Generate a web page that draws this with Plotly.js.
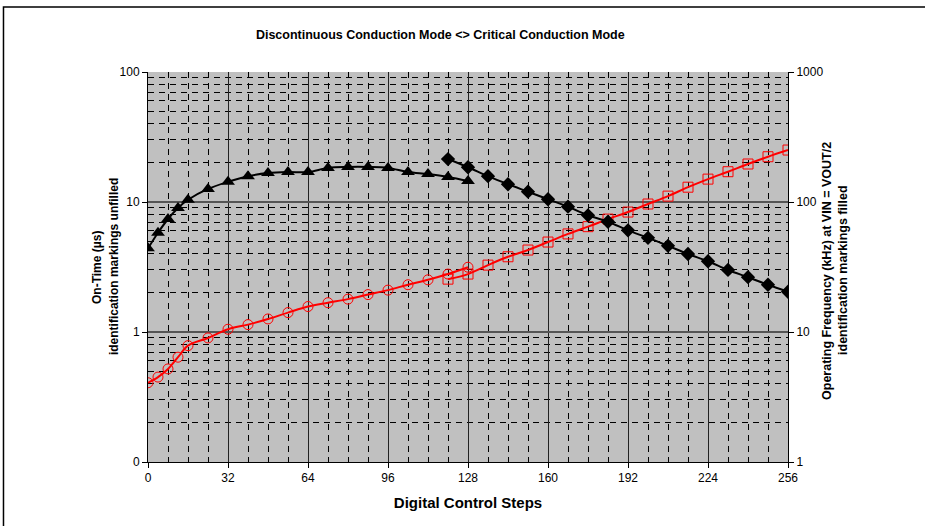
<!DOCTYPE html>
<html>
<head>
<meta charset="utf-8">
<script src="https://cdn.plot.ly/plotly-3.0.1.min.js"></script>
<style>html,body{margin:0;padding:0;background:#fff;}#chart{width:925px;height:526px;}</style>
</head>
<body>
<div id="chart"></div>
<script>
// Digital control steps
const stepsA = [0,4,8,12,16,24,32,40,48,56,64,72,80,88,96,104,112,120,128];
const stepsB = [120,128,136,144,152,160,168,176,184,192,200,208,216,224,232,240,248,256];
// Operating frequency (kHz), filled markers, right axis
const freqTriangle = [44,58,74,90,104,126,143,158,167,170,170,183,186,186,183,170,164,156,145];
const freqDiamond = [214,185,158,137,120,105,92,79,70.5,60.5,53,46,39.8,35,30,26.4,23.1,20.4];
// On-time (us), unfilled markers, left axis
const onTimeCircle = [0.407,0.45,0.52,0.64,0.785,0.90,1.05,1.14,1.26,1.41,1.57,1.68,1.79,1.94,2.10,2.31,2.52,2.79,3.15];
const onTimeSquare = [2.55,2.79,3.27,3.79,4.27,4.92,5.68,6.46,7.39,8.37,9.65,11.1,13.0,15.0,17.1,19.6,22.3,25.1];
// Tick labels
const xTicks = [0,32,64,96,128,160,192,224,256];
const leftTickVals = [0.1,1,10,100];
const leftTickText = ['0','1','10','100'];
const rightTickVals = [1,10,100,1000];
const rightTickText = ['1','10','100','1000'];

const minorY = [];
[0.1,1,10].forEach(d => { for (let k=2;k<=9;k++) minorY.push(d*k); });

const FONT = 'Liberation Sans, Arial, sans-serif';

const traces = [
  {x: stepsA, y: freqTriangle, yaxis:'y2', mode:'lines+markers', type:'scatter',
   line:{color:'#000', width:2, shape:'spline', smoothing:1},
   marker:{symbol:'triangle-up', size:12, color:'#000'}},
  {x: stepsB, y: freqDiamond, yaxis:'y2', mode:'lines+markers', type:'scatter',
   line:{color:'#000', width:2, shape:'spline', smoothing:1},
   marker:{symbol:'diamond', size:11, color:'#000'}},
  {x: stepsA, y: onTimeCircle, yaxis:'y', mode:'lines+markers', type:'scatter',
   line:{color:'#ff0000', width:2, shape:'spline', smoothing:1},
   marker:{symbol:'circle-open', size:10, color:'#ff0000', line:{width:1}}},
  {x: stepsB, y: onTimeSquare, yaxis:'y', mode:'lines+markers', type:'scatter',
   line:{color:'#ff0000', width:2, shape:'spline', smoothing:1},
   marker:{symbol:'square-open', size:10, color:'#ff0000', line:{width:1}}}
];

const layout = {
  width:925, height:526,
  margin:{l:148, r:137, t:72, b:64, pad:0},
  paper_bgcolor:'#ffffff', plot_bgcolor:'#c0c0c0',
  showlegend:false,
  font:{family:FONT, size:12, color:'#000'},
  title:{text:'<b>Discontinuous Conduction Mode &lt;&gt; Critical Conduction Mode</b>',
         font:{family:FONT, size:12.5, color:'#000'}, x:0.476, xanchor:'center', y:0.935, yanchor:'middle'},
  xaxis:{range:[0,256], tickvals:xTicks, ticks:'outside', ticklen:5, tickcolor:'#000',
         showline:true, linecolor:'#000', linewidth:1, zeroline:false,
         showgrid:true, gridcolor:'#222', gridwidth:1,
         minor:{dtick:8, tick0:0, showgrid:true, gridcolor:'#000', gridwidth:1, griddash:'6px,5px', ticks:''},
         tickfont:{family:FONT, size:12, color:'#000'},
         title:{text:'<b>Digital Control Steps</b>', font:{family:FONT, size:15, color:'#000'}, standoff:13}},
  yaxis:{type:'log', range:[-1,2], tickvals:leftTickVals, ticktext:leftTickText, ticks:'outside', ticklen:5, tickcolor:'#000',
         showline:true, linecolor:'#000', linewidth:1, zeroline:false,
         showgrid:true, gridcolor:'#555', gridwidth:1.5,
         minor:{tickvals:minorY, showgrid:true, gridcolor:'#000', gridwidth:1, griddash:'6px,5px', ticks:''},
         tickfont:{family:FONT, size:12, color:'#000'}},
  yaxis2:{type:'log', range:[0,3], overlaying:'y', side:'right', tickvals:rightTickVals, ticktext:rightTickText,
         ticks:'outside', ticklen:5, tickcolor:'#000', showline:true, linecolor:'#000', linewidth:1,
         showgrid:false, zeroline:false, tickfont:{family:FONT, size:12, color:'#000'}},
  annotations:[
    {text:'<b>On-Time (µs)</b>', xref:'paper', yref:'paper', x:-0.0797, y:0.5, textangle:-90,
     showarrow:false, xanchor:'center', yanchor:'middle', font:{family:FONT, size:12, color:'#000'}},
    {text:'<b>identification markings unfilled</b>', xref:'paper', yref:'paper', x:-0.053, y:0.5, textangle:-90,
     showarrow:false, xanchor:'center', yanchor:'middle', font:{family:FONT, size:12, color:'#000'}},
    {text:'<b>Operating Frequency (kHz) at VIN = VOUT/2</b>', xref:'paper', yref:'paper', x:1.061, y:0.49, textangle:-90,
     showarrow:false, xanchor:'center', yanchor:'middle', font:{family:FONT, size:12.5, color:'#000'}},
    {text:'<b>identification markings filled</b>', xref:'paper', yref:'paper', x:1.086, y:0.49, textangle:-90,
     showarrow:false, xanchor:'center', yanchor:'middle', font:{family:FONT, size:12.5, color:'#000'}}
  ],
  shapes:[
    {type:'rect', xref:'paper', yref:'paper', x0:-0.2258, x1:1.3, y0:-0.3, y1:1.1667,
     line:{color:'#000', width:1.5}, fillcolor:'rgba(0,0,0,0)', layer:'above'}
  ]
};

Plotly.newPlot('chart', traces, layout, {displayModeBar:false, staticPlot:true});
</script>
</body>
</html>
